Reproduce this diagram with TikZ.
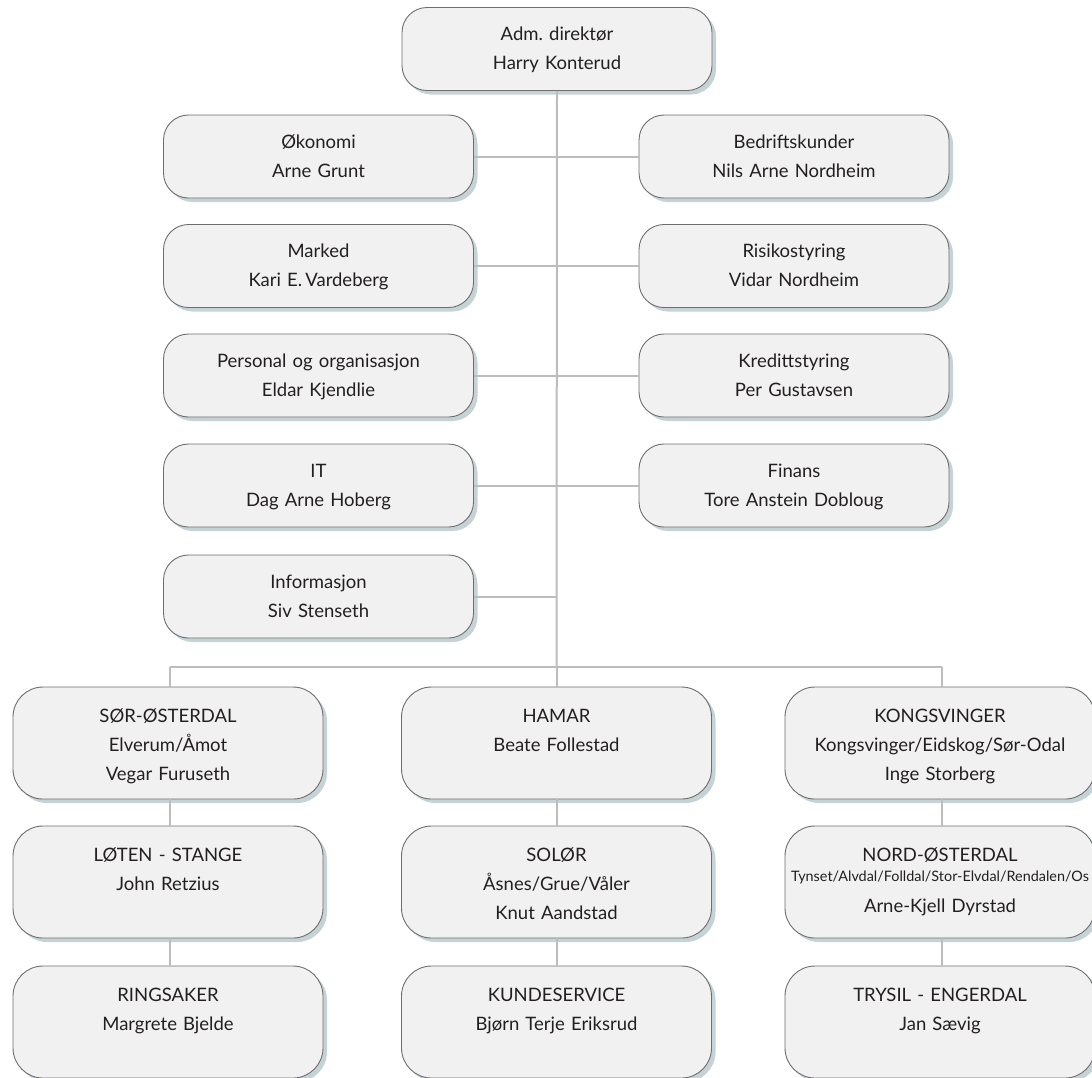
\documentclass[tikz,border=0pt]{standalone}
\usepackage{fontspec}
\setmainfont{Lato}
\usetikzlibrary{shadows}
\frenchspacing
\definecolor{boxfill}{HTML}{F1F1F1}
\definecolor{boxline}{HTML}{6E6E6E}
\definecolor{shadowcol}{HTML}{C5D3D6}
\definecolor{linecol}{HTML}{BDBDBD}
\definecolor{txtcol}{HTML}{231F20}
\tikzset{
  basebox/.style={draw=boxline, line width=0.9pt, fill=boxfill, inner sep=0pt,
    text width=310pt, align=center, text=txtcol,
    font=\fontsize{18.5}{29}\selectfont,
    drop shadow={shadow xshift=4pt, shadow yshift=-4pt, fill=shadowcol, opacity=1}},
  ubox/.style={basebox, rounded corners=25pt, text height=33pt, text depth=50pt},
  bbox/.style={basebox, rounded corners=30pt, text height=35pt, text depth=77pt},
  conn/.style={draw=linecol, line width=2pt}
}
\begin{document}
\begin{tikzpicture}[x=1pt,y=-1pt]
\useasboundingbox (0,0) rectangle (1092,1077);
% top
\node[ubox] (dir) at (557,49) {Adm. direktør\\Harry Konterud};
% staff rows
\node[ubox] (oko) at (318.5,156.5) {Økonomi\\Arne Grunt};
\node[ubox] (bed) at (794,156.5) {Bedriftskunder\\Nils Arne Nordheim};
\node[ubox] (mar) at (318.5,266) {Marked\\Kari E.\,Vardeberg};
\node[ubox] (ris) at (794,266) {Risikostyring\\Vidar Nordheim};
\node[ubox] (per) at (318.5,375.5) {Personal og organisasjon\\Eldar Kjendlie};
\node[ubox] (kre) at (794,375.5) {Kredittstyring\\Per Gustavsen};
\node[ubox] (it) at (318.5,485.5) {IT\\Dag Arne Hoberg};
\node[ubox] (fin) at (794,485.5) {Finans\\Tore Anstein Dobloug};
\node[ubox] (inf) at (318.5,596.5) {Informasjon\\Siv Stenseth};
% regions
\node[bbox] (l1) at (168,743) {SØR-ØSTERDAL\\Elverum/Åmot\\Vegar Furuseth};
\node[bbox] (m1) at (556.5,743) {HAMAR\\Beate Follestad};
\node[bbox] (r1) at (940,743) {KONGSVINGER\\Kongsvinger/Eidskog/Sør-Odal\\Inge Storberg};
\node[bbox] (l2) at (168,882) {LØTEN - STANGE\\John Retzius};
\node[bbox] (m2) at (556.5,882) {SOLØR\\Åsnes/Grue/Våler\\Knut Aandstad};
\node[bbox] (r2) at (940,882) {NORD-ØSTERDAL\\[-9pt]{\fontsize{14.4}{16}\selectfont Tynset/Alvdal/Folldal/Stor-Elvdal/Rendalen/Os}\\[2pt]Arne-Kjell Dyrstad};
\node[bbox] (l3) at (168,1022) {RINGSAKER\\Margrete Bjelde};
\node[bbox] (m3) at (556.5,1022) {KUNDESERVICE\\Bjørn Terje Eriksrud};
\node[bbox] (r3) at (940,1022) {TRYSIL - ENGERDAL\\Jan Sævig};
% bus coordinates
\coordinate (busc) at (556.5,667);
\coordinate (busl) at (170,667);
\coordinate (busr) at (942,667);
% connectors
\draw[conn] (dir.south) -- (busc);
\draw[conn] (oko.east) -- (bed.west);
\draw[conn] (mar.east) -- (ris.west);
\draw[conn] (per.east) -- (kre.west);
\draw[conn] (it.east) -- (fin.west);
\draw[conn] (inf.east) -- (inf.east -| busc);
\draw[conn] (busl) -- (busr);
\draw[conn] (busl) -- (l1.north -| busl);
\draw[conn] (busc) -- (m1.north);
\draw[conn] (busr) -- (r1.north -| busr);
\draw[conn] (l1.south -| busl) -- (l2.north -| busl);
\draw[conn] (l2.south -| busl) -- (l3.north -| busl);
\draw[conn] (m1.south) -- (m2.north);
\draw[conn] (m2.south) -- (m3.north);
\draw[conn] (r1.south -| busr) -- (r2.north -| busr);
\draw[conn] (r2.south -| busr) -- (r3.north -| busr);
\end{tikzpicture}
\end{document}
